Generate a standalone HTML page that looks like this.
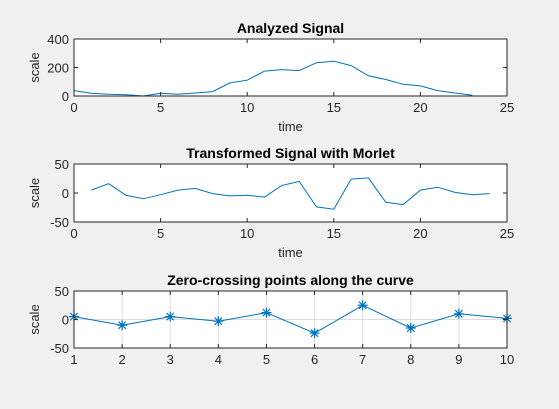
<!DOCTYPE html>
<html><head><meta charset="utf-8"><style>
body{margin:0;background:#f0f0f0;}
svg{display:block;font-family:"Liberation Sans",Arial,sans-serif;}
</style></head><body>
<svg id="fig" width="559" height="409" viewBox="0 0 559 409"></svg>
<script>
const x1Vals=[0,1,2,3,4,5,6,7,8,9,10,11,12,13,14,15,16,17,18,19,20,21,22,23];
const y1Vals=[38,19,12,9,0,19,12,21,31,92,111,175,185,178,234,244,213,142,116,83,71,38,21,5];
const x2Vals=[1,2,3,4,5,6,7,8,9,10,11,12,13,14,15,16,17,18,19,20,21,22,23,24];
const y2Vals=[5,16,-4,-10,-3,5,8,-1,-5,-4,-7,13,20,-24,-28,24,26,-16,-20,5,10,1,-3,-1];
const x3Vals=[1,2,3,4,5,6,7,8,9,10];
const y3Vals=[5,-10,5,-3,12,-24,25,-15,10,2];
const xt1=[0,5,10,15,20,25], yt1=[0,200,400];
const xt2=[0,5,10,15,20,25], yt2=[-50,0,50];
const xt3=[1,2,3,4,5,6,7,8,9,10], yt3=[-50,0,50];
const NS="http://www.w3.org/2000/svg";
const svg=document.getElementById('fig');
function mk(tag,attrs,parent){const e=document.createElementNS(NS,tag);for(const k in attrs)e.setAttribute(k,attrs[k]);(parent||svg).appendChild(e);return e;}
function panel(o){
  const g=mk('g',{});
  
  
  const L=74,R=507,T=o.top,B=o.bot;
  const sx=v=>L+(v-o.xmin)/(o.xmax-o.xmin)*(R-L);
  const sy=v=>B-(v-o.ymin)/(o.ymax-o.ymin)*(B-T);
  const bg=mk('rect',{x:L,y:T,width:R-L,height:B-T,fill:'#fff'},g);
  
  
  if(o.grid){
    o.xt.forEach(v=>mk('line',{x1:sx(v),x2:sx(v),y1:T,y2:B,stroke:'#dcdcdc','stroke-width':1},g));
    o.yt.forEach(v=>mk('line',{x1:L,x2:R,y1:sy(v),y2:sy(v),stroke:'#dcdcdc','stroke-width':1},g));
  }
  const pts=o.xs.map((x,i)=>sx(x).toFixed(1)+','+sy(o.ys[i]).toFixed(1)).join(' ');
  const pl=mk('polyline',{points:pts,fill:'none',stroke:'#0072bd','stroke-width':1},g);
  
  
  if(o.markers){
    o.xs.forEach((x,i)=>{
      const cx=sx(x),cy=sy(o.ys[i]),r=5,d=3.6;
      const m=mk('path',{d:`M${cx-r},${cy}H${cx+r}M${cx},${cy-r}V${cy+r}M${cx-d},${cy-d}L${cx+d},${cy+d}M${cx-d},${cy+d}L${cx+d},${cy-d}`,stroke:'#0072bd','stroke-width':1.2,fill:'none'},g);
      
      
    });
  }
  mk('rect',{x:L,y:T,width:R-L,height:B-T,fill:'none',stroke:'#262626','stroke-width':1},g);
  o.xt.forEach(v=>{
    mk('line',{x1:sx(v),x2:sx(v),y1:B,y2:B-4,stroke:'#262626'},g);
    mk('line',{x1:sx(v),x2:sx(v),y1:T,y2:T+4,stroke:'#262626'},g);
    const t=mk('text',{x:sx(v),y:B+16,'font-size':13,'text-anchor':'middle',fill:'#262626'},g);
    t.textContent=v;
    
    
  });
  o.yt.forEach(v=>{
    mk('line',{x1:L,x2:L+4,y1:sy(v),y2:sy(v),stroke:'#262626'},g);
    mk('line',{x1:R,x2:R-4,y1:sy(v),y2:sy(v),stroke:'#262626'},g);
    const t=mk('text',{x:L-5,y:sy(v)+5,'font-size':13,'text-anchor':'end',fill:'#262626'},g);
    t.textContent=v;
    
    
  });
  const ti=mk('text',{x:(L+R)/2,y:T-6,'font-size':14,'font-weight':'bold','text-anchor':'middle',fill:'#000'},g);
  ti.textContent=o.title;
  
  
  const yl=mk('text',{x:0,y:0,'font-size':13,'text-anchor':'middle',fill:'#262626',transform:`translate(${L-35},${(T+B)/2}) rotate(-90)`},g);
  yl.textContent='scale';
  
  
  if(o.xlabel){
    const xl=mk('text',{x:(L+R)/2,y:B+35,'font-size':13,'text-anchor':'middle',fill:'#262626'},g);
    xl.textContent='time';
    
    
  }
}
panel({name:'analyzed-signal-chart',top:39,bot:96,xmin:0,xmax:25,ymin:0,ymax:400,xs:x1Vals,ys:y1Vals,xt:xt1,yt:yt1,title:'Analyzed Signal',xlabel:true});
panel({name:'transformed-signal-chart',top:164,bot:222,xmin:0,xmax:25,ymin:-50,ymax:50,xs:x2Vals,ys:y2Vals,xt:xt2,yt:yt2,title:'Transformed Signal with Morlet',xlabel:true});
panel({name:'zero-crossing-chart',top:291,bot:348,xmin:1,xmax:10,ymin:-50,ymax:50,xs:x3Vals,ys:y3Vals,xt:xt3,yt:yt3,title:'Zero-crossing points along the curve',grid:true,markers:true});
</script>
</body></html>
